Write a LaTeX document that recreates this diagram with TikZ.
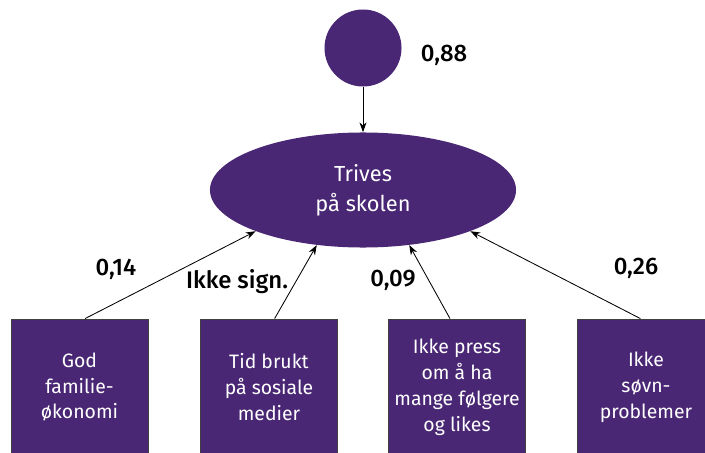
\documentclass[tikz,border=0pt]{standalone}
\usepackage{fontspec}
\setmainfont{Fira Sans}
\newfontfamily\coeffont{Fira Sans Medium}
\usetikzlibrary{shapes.geometric,arrows.meta}
\definecolor{lilla}{RGB}{74,39,116}

\begin{document}
\begin{tikzpicture}[x=0.025cm,y=-0.025cm,
  latent/.style={ellipse,fill=lilla,text=white,align=center,inner sep=0pt,
    minimum width=7.65cm,minimum height=2.875cm,font=\fontsize{15.5}{21.5}\selectfont},
  resid/.style={circle,fill=lilla,inner sep=0pt,minimum size=1.925cm},
  obs/.style={rectangle,fill=lilla,draw=black!75,line width=0.6pt,text=white,align=center,
    minimum width=3.425cm,minimum height=3.4cm,font=\fontsize{13.8}{18.4}\selectfont},
  coef/.style={font=\coeffont\fontsize{17}{20}\selectfont},
  path/.style={-{Stealth[length=7pt,width=5pt]},line width=0.6pt}]
\useasboundingbox (0,0) rectangle (705,453);

% latent variable and its residual
\node[resid] (err) at (363,48) {};
\node[coef] (r2) at (444,55) {0,88};
\node[latent] (trives) at (363,190) {Trives\\på skolen};
\draw[path] (err) -- (trives);

% observed predictors
\node[obs] (okonomi) at (79.5,387) {God\\familie-\\økonomi};
\node[obs] (tid) at (269,387) {Tid brukt\\på sosiale\\medier};
\node[obs] (press) at (457,387) {Ikke press\\om å ha\\mange følgere\\og likes};
\node[obs] (sovn) at (646,387) {Ikke\\søvn-\\problemer};

\draw[path] ([xshift=4pt]okonomi.north) -- (trives.201);
\draw[path] ([xshift=4pt]tid.north) -- (trives.230);
\draw[path] ([xshift=-5pt]press.north) -- (trives.310);
\draw[path] ([xshift=-4pt]sovn.north) -- (trives.339);

% coefficients
\node[coef] (c1) at (116,269) {0,14};
\node[coef] (c2) at (237,282) {Ikke sign.};
\node[coef] (c3) at (393,280) {0,09};
\node[coef] (c4) at (636,268) {0,26};
\end{tikzpicture}
\end{document}
